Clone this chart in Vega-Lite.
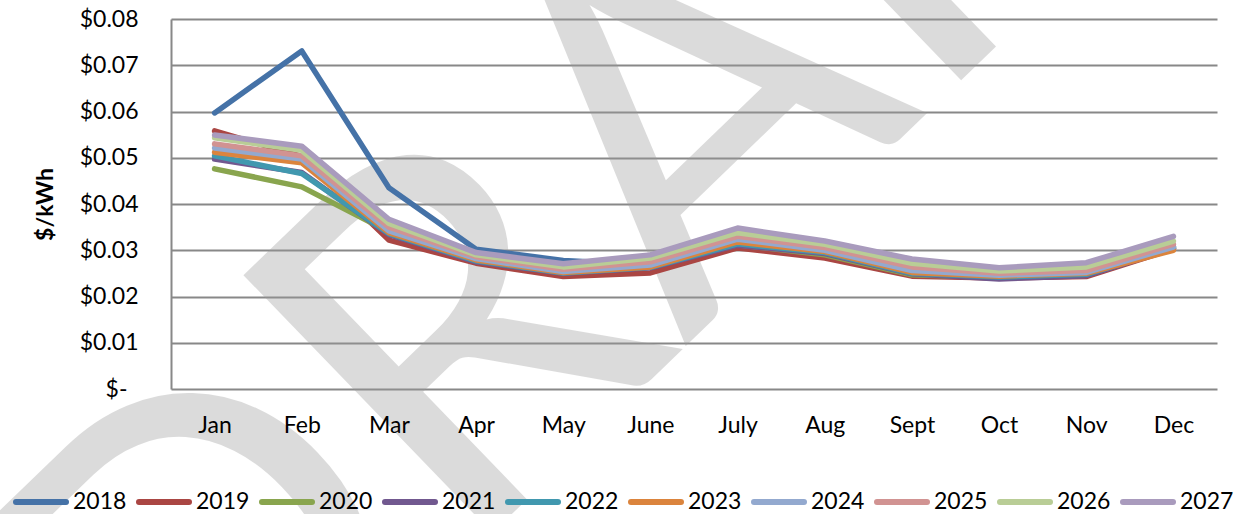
{
  "$schema": "https://vega.github.io/schema/vega-lite/v6.json",
  "width": 1046,
  "height": 370,
  "autosize": {"type": "none"},
  "padding": {"left": 171, "top": 19, "right": 30, "bottom": 125},
  "background": "white",
  "config": {
    "view": {"stroke": null},
    "font": "Lato",
    "axis": {"labelFont": "Lato", "titleFont": "Lato", "labelColor": "#000000", "titleColor": "#000000"}
  },
  "datasets": {
    "stamp": [{"text": "DRAFT", "month": "July", "value": 0.0201}],
    "prices": [
      {"month": "Jan", "year": "2018", "value": 0.0597}, {"month": "Feb", "year": "2018", "value": 0.0731}, {"month": "Mar", "year": "2018", "value": 0.0435}, {"month": "Apr", "year": "2018", "value": 0.0302}, {"month": "May", "year": "2018", "value": 0.0278}, {"month": "June", "year": "2018", "value": 0.0268}, {"month": "July", "year": "2018", "value": 0.0310}, {"month": "Aug", "year": "2018", "value": 0.0290}, {"month": "Sept", "year": "2018", "value": 0.0248}, {"month": "Oct", "year": "2018", "value": 0.0240}, {"month": "Nov", "year": "2018", "value": 0.0246}, {"month": "Dec", "year": "2018", "value": 0.0308},
      {"month": "Jan", "year": "2019", "value": 0.0558}, {"month": "Feb", "year": "2019", "value": 0.0503}, {"month": "Mar", "year": "2019", "value": 0.0322}, {"month": "Apr", "year": "2019", "value": 0.0272}, {"month": "May", "year": "2019", "value": 0.0243}, {"month": "June", "year": "2019", "value": 0.0251}, {"month": "July", "year": "2019", "value": 0.0305}, {"month": "Aug", "year": "2019", "value": 0.0283}, {"month": "Sept", "year": "2019", "value": 0.0244}, {"month": "Oct", "year": "2019", "value": 0.0240}, {"month": "Nov", "year": "2019", "value": 0.0243}, {"month": "Dec", "year": "2019", "value": 0.0303},
      {"month": "Jan", "year": "2020", "value": 0.0476}, {"month": "Feb", "year": "2020", "value": 0.0437}, {"month": "Mar", "year": "2020", "value": 0.0340}, {"month": "Apr", "year": "2020", "value": 0.0276}, {"month": "May", "year": "2020", "value": 0.0252}, {"month": "June", "year": "2020", "value": 0.0264}, {"month": "July", "year": "2020", "value": 0.0312}, {"month": "Aug", "year": "2020", "value": 0.0290}, {"month": "Sept", "year": "2020", "value": 0.0247}, {"month": "Oct", "year": "2020", "value": 0.0241}, {"month": "Nov", "year": "2020", "value": 0.0246}, {"month": "Dec", "year": "2020", "value": 0.0305},
      {"month": "Jan", "year": "2021", "value": 0.0497}, {"month": "Feb", "year": "2021", "value": 0.0468}, {"month": "Mar", "year": "2021", "value": 0.0334}, {"month": "Apr", "year": "2021", "value": 0.0275}, {"month": "May", "year": "2021", "value": 0.0250}, {"month": "June", "year": "2021", "value": 0.0262}, {"month": "July", "year": "2021", "value": 0.0311}, {"month": "Aug", "year": "2021", "value": 0.0293}, {"month": "Sept", "year": "2021", "value": 0.0249}, {"month": "Oct", "year": "2021", "value": 0.0238}, {"month": "Nov", "year": "2021", "value": 0.0245}, {"month": "Dec", "year": "2021", "value": 0.0304},
      {"month": "Jan", "year": "2022", "value": 0.0504}, {"month": "Feb", "year": "2022", "value": 0.0466}, {"month": "Mar", "year": "2022", "value": 0.0336}, {"month": "Apr", "year": "2022", "value": 0.0277}, {"month": "May", "year": "2022", "value": 0.0251}, {"month": "June", "year": "2022", "value": 0.0263}, {"month": "July", "year": "2022", "value": 0.0314}, {"month": "Aug", "year": "2022", "value": 0.0295}, {"month": "Sept", "year": "2022", "value": 0.0250}, {"month": "Oct", "year": "2022", "value": 0.0242}, {"month": "Nov", "year": "2022", "value": 0.0248}, {"month": "Dec", "year": "2022", "value": 0.0305},
      {"month": "Jan", "year": "2023", "value": 0.0512}, {"month": "Feb", "year": "2023", "value": 0.0489}, {"month": "Mar", "year": "2023", "value": 0.0338}, {"month": "Apr", "year": "2023", "value": 0.0279}, {"month": "May", "year": "2023", "value": 0.0252}, {"month": "June", "year": "2023", "value": 0.0264}, {"month": "July", "year": "2023", "value": 0.0318}, {"month": "Aug", "year": "2023", "value": 0.0297}, {"month": "Sept", "year": "2023", "value": 0.0252}, {"month": "Oct", "year": "2023", "value": 0.0244}, {"month": "Nov", "year": "2023", "value": 0.0250}, {"month": "Dec", "year": "2023", "value": 0.0300},
      {"month": "Jan", "year": "2024", "value": 0.0521}, {"month": "Feb", "year": "2024", "value": 0.0497}, {"month": "Mar", "year": "2024", "value": 0.0342}, {"month": "Apr", "year": "2024", "value": 0.0282}, {"month": "May", "year": "2024", "value": 0.0254}, {"month": "June", "year": "2024", "value": 0.0268}, {"month": "July", "year": "2024", "value": 0.0324}, {"month": "Aug", "year": "2024", "value": 0.0300}, {"month": "Sept", "year": "2024", "value": 0.0256}, {"month": "Oct", "year": "2024", "value": 0.0246}, {"month": "Nov", "year": "2024", "value": 0.0252}, {"month": "Dec", "year": "2024", "value": 0.0307},
      {"month": "Jan", "year": "2025", "value": 0.0530}, {"month": "Feb", "year": "2025", "value": 0.0504}, {"month": "Mar", "year": "2025", "value": 0.0350}, {"month": "Apr", "year": "2025", "value": 0.0286}, {"month": "May", "year": "2025", "value": 0.0259}, {"month": "June", "year": "2025", "value": 0.0275}, {"month": "July", "year": "2025", "value": 0.0330}, {"month": "Aug", "year": "2025", "value": 0.0306}, {"month": "Sept", "year": "2025", "value": 0.0264}, {"month": "Oct", "year": "2025", "value": 0.0250}, {"month": "Nov", "year": "2025", "value": 0.0256}, {"month": "Dec", "year": "2025", "value": 0.0313},
      {"month": "Jan", "year": "2026", "value": 0.0543}, {"month": "Feb", "year": "2026", "value": 0.0516}, {"month": "Mar", "year": "2026", "value": 0.0358}, {"month": "Apr", "year": "2026", "value": 0.0290}, {"month": "May", "year": "2026", "value": 0.0264}, {"month": "June", "year": "2026", "value": 0.0283}, {"month": "July", "year": "2026", "value": 0.0338}, {"month": "Aug", "year": "2026", "value": 0.0313}, {"month": "Sept", "year": "2026", "value": 0.0272}, {"month": "Oct", "year": "2026", "value": 0.0255}, {"month": "Nov", "year": "2026", "value": 0.0264}, {"month": "Dec", "year": "2026", "value": 0.0320},
      {"month": "Jan", "year": "2027", "value": 0.0549}, {"month": "Feb", "year": "2027", "value": 0.0525}, {"month": "Mar", "year": "2027", "value": 0.0367}, {"month": "Apr", "year": "2027", "value": 0.0295}, {"month": "May", "year": "2027", "value": 0.0271}, {"month": "June", "year": "2027", "value": 0.0290}, {"month": "July", "year": "2027", "value": 0.0348}, {"month": "Aug", "year": "2027", "value": 0.0320}, {"month": "Sept", "year": "2027", "value": 0.0281}, {"month": "Oct", "year": "2027", "value": 0.0262}, {"month": "Nov", "year": "2027", "value": 0.0273}, {"month": "Dec", "year": "2027", "value": 0.0330}
    ]
  },
  "layer": [
    {
      "data": {"name": "stamp"},
      "mark": {"type": "text", "font": "Lato", "fontSize": 500, "angle": -44, "dx": 38, "align": "center", "baseline": "alphabetic", "color": "#9a9a9a", "opacity": 0.35},
      "encoding": {
        "x": {
          "field": "month", "type": "nominal",
          "sort": ["Jan", "Feb", "Mar", "Apr", "May", "June", "July", "Aug", "Sept", "Oct", "Nov", "Dec"],
          "scale": {"type": "point", "padding": 0.5, "domain": ["Jan", "Feb", "Mar", "Apr", "May", "June", "July", "Aug", "Sept", "Oct", "Nov", "Dec"]}
        },
        "y": {"field": "value", "type": "quantitative"},
        "text": {"field": "text"}
      }
    },
    {
      "data": {"name": "prices"},
      "mark": {"type": "line", "strokeWidth": 5.5, "strokeCap": "round", "strokeJoin": "round"},
      "encoding": {
        "x": {
          "field": "month", "type": "nominal",
          "sort": ["Jan", "Feb", "Mar", "Apr", "May", "June", "July", "Aug", "Sept", "Oct", "Nov", "Dec"],
          "scale": {"type": "point", "padding": 0.5, "domain": ["Jan", "Feb", "Mar", "Apr", "May", "June", "July", "Aug", "Sept", "Oct", "Nov", "Dec"]},
          "axis": {"title": null, "labelAngle": 0, "labelAlign": "center", "labelFontSize": 23, "labelPadding": 36, "ticks": false, "domain": false, "grid": false, "zindex": 1}
        },
        "y": {
          "field": "value", "type": "quantitative",
          "scale": {"domain": [0, 0.08], "nice": false, "zero": true},
          "axis": {
            "title": "$/kWh", "titleFontSize": 23, "titleFontWeight": "bold", "titlePadding": 22,
            "values": [0, 0.01, 0.02, 0.03, 0.04, 0.05, 0.06, 0.07, 0.08],
            "labelExpr": "datum.value == 0 ? '$-' : '$' + format(datum.value, '.2f')",
            "labelFontSize": 23,
            "labelPadding": {"condition": {"test": "datum.value == 0", "value": 44}, "value": 33},
            "ticks": false,
            "domain": true, "domainColor": "#888888", "domainWidth": 2,
            "grid": true, "gridColor": "#888888", "gridWidth": 2, "gridOpacity": 1
          }
        },
        "color": {
          "field": "year", "type": "nominal",
          "scale": {
            "domain": ["2018", "2019", "2020", "2021", "2022", "2023", "2024", "2025", "2026", "2027"],
            "range": ["#4572A7", "#AA4643", "#89A54E", "#71588F", "#4198AF", "#DB843D", "#93A9CF", "#D19392", "#B9CD96", "#A99BBD"]
          },
          "legend": {
            "title": null, "orient": "none", "legendX": -158, "legendY": 455,
            "direction": "horizontal", "columns": 10, "columnPadding": 0,
            "symbolType": "stroke", "symbolSize": 2500, "symbolStrokeWidth": 6,
            "labelFontSize": 23, "labelFont": "Lato", "labelColor": "#000000", "labelOffset": 4,
            "encode": {"symbols": {"update": {"strokeCap": {"value": "round"}}}}
          }
        }
      }
    }
  ]
}
